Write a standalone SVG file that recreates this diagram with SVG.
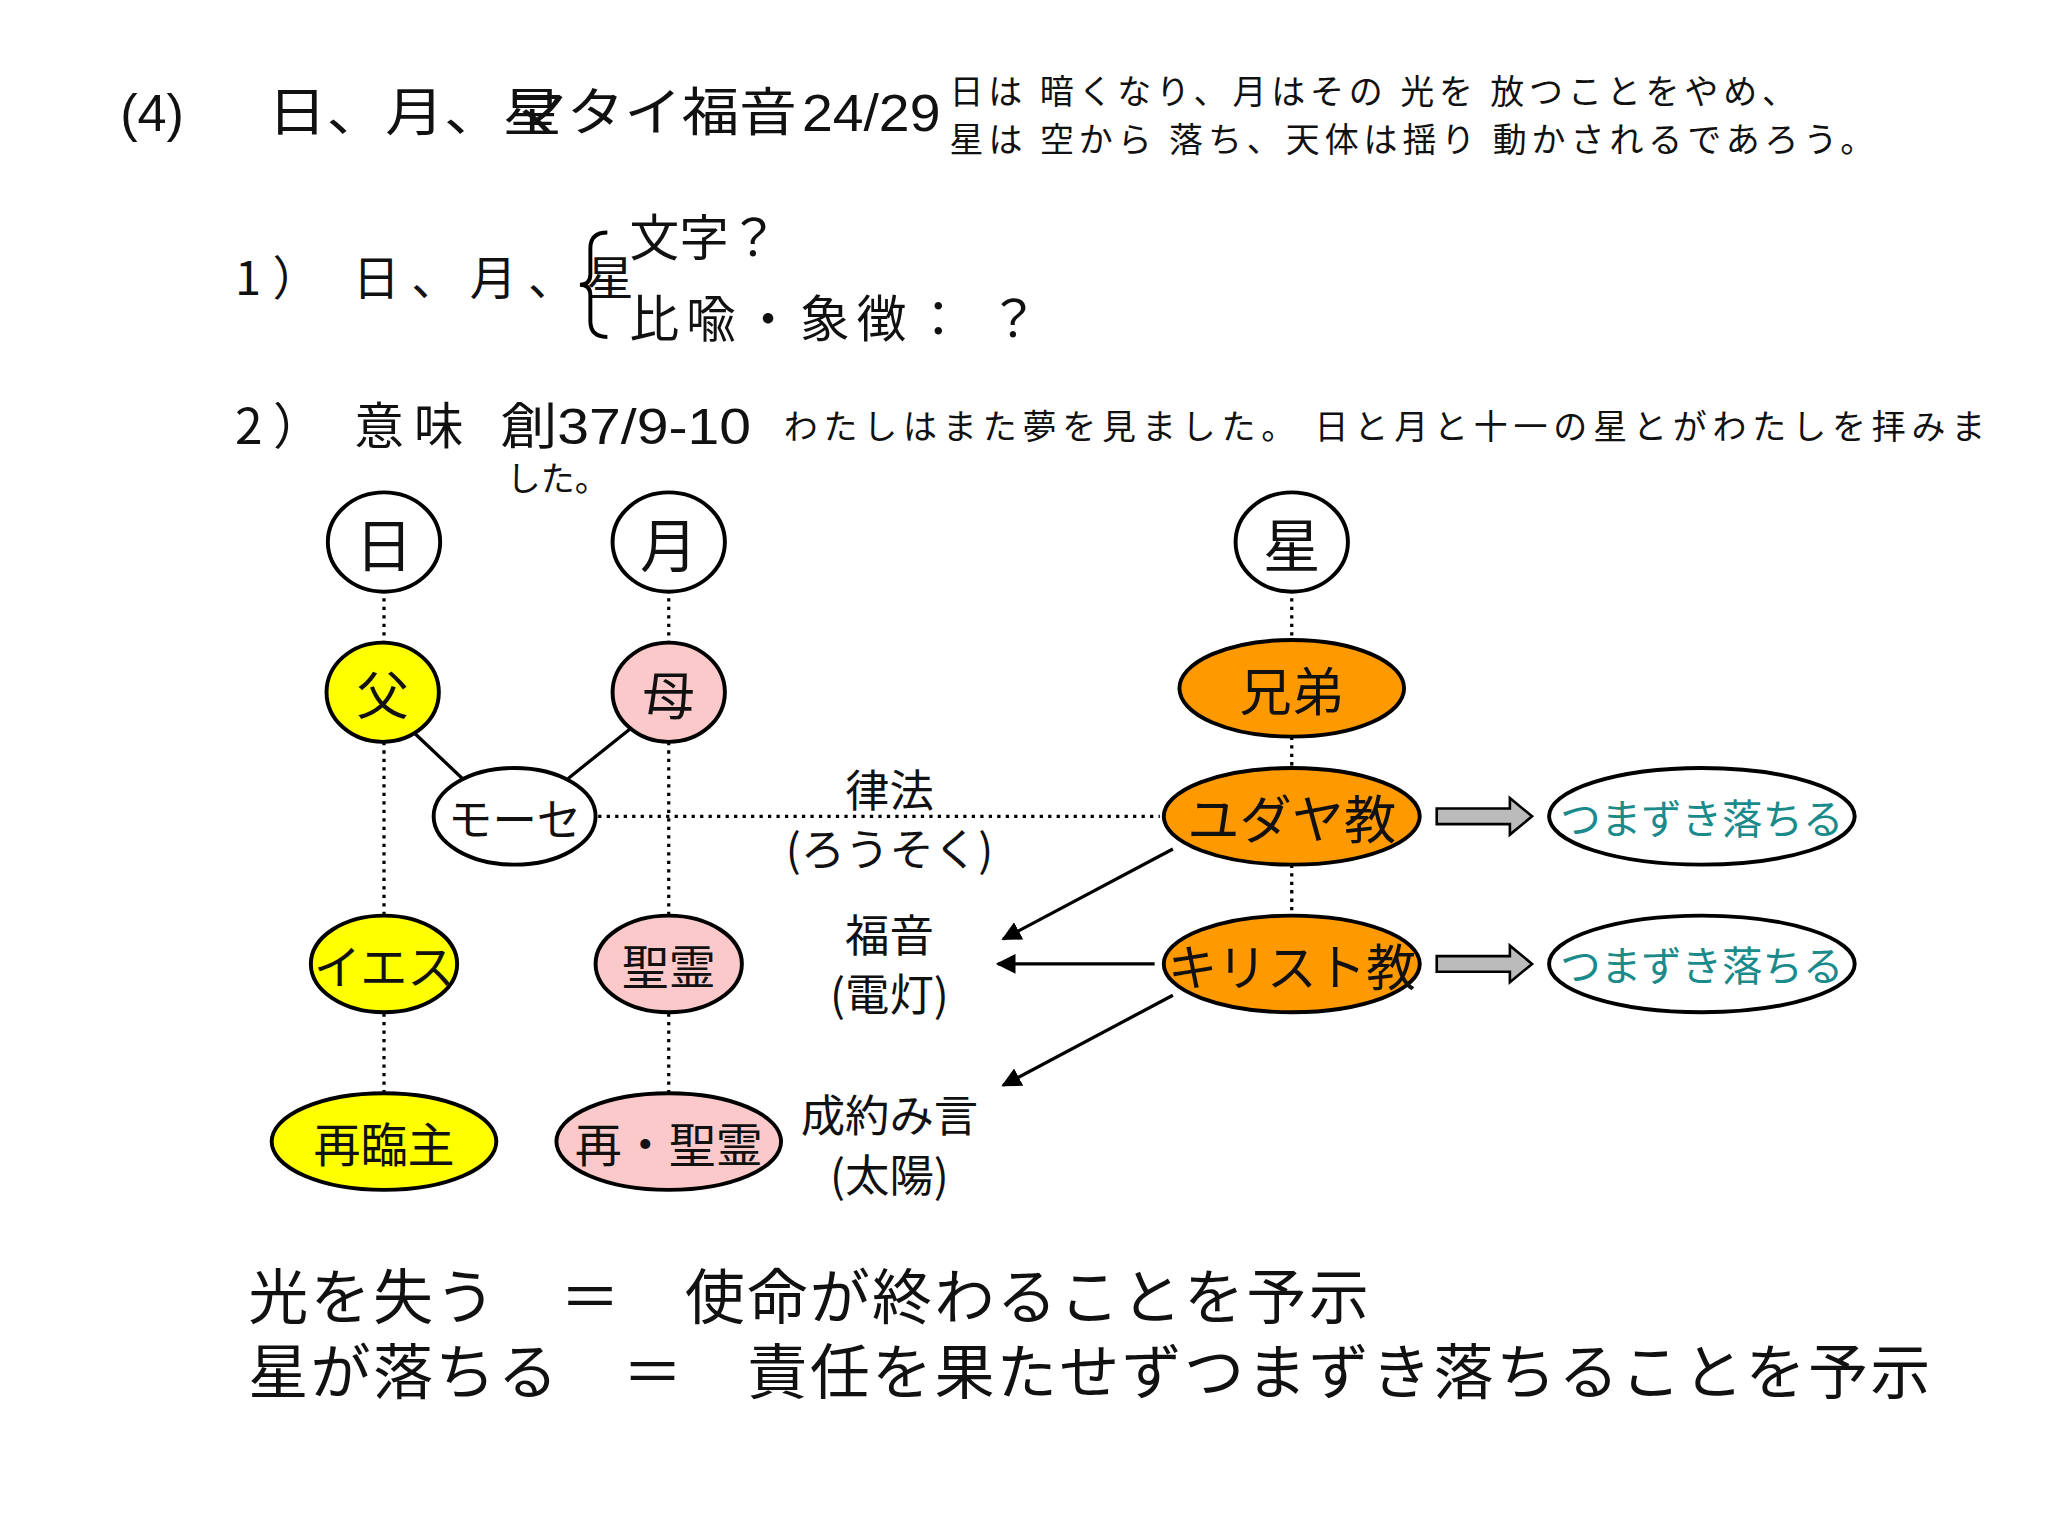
<svg xmlns="http://www.w3.org/2000/svg" width="2048" height="1536" viewBox="0 0 2048 1536">
<defs>
<style>
text{font-family:"Liberation Serif","Noto Sans CJK JP",serif;fill:#111}
.s{font-family:"Liberation Sans","Noto Sans CJK JP",sans-serif}
.j{font-family:"Noto Sans CJK JP",sans-serif}
.n{text-anchor:middle;dominant-baseline:central}
.e{stroke:#000;stroke-width:3}
.d{stroke:#000;stroke-width:2.5;stroke-dasharray:2.5 4;fill:none}
.a{stroke:#000;stroke-width:2.5;fill:none;marker-end:url(#ah)}
</style>
<marker id="ah" viewBox="0 0 10 10" refX="9" refY="5" markerWidth="6" markerHeight="6" orient="auto"><path d="M0,0L10,5L0,10z" fill="#000"/></marker>
</defs>
<rect width="2048" height="1536" fill="#fff"/>
<g transform="scale(1.30612)">
<g id="texts">
<text class="s" x="92" y="100" font-size="40">(4)</text>
<text class="j" x="205" y="100" font-size="40" textLength="225" lengthAdjust="spacingAndGlyphs">日、月、星</text>
<text class="j" x="390" y="100" font-size="40" textLength="220" lengthAdjust="spacingAndGlyphs">マタイ福音</text>
<text class="s" x="614" y="100" font-size="40" textLength="106" lengthAdjust="spacingAndGlyphs">24/29</text>
<text class="j" x="727" y="80" font-size="26" textLength="648">日は 暗くなり、月はその 光を 放つことをやめ、</text>
<text class="j" x="727" y="116" font-size="26" textLength="708">星は 空から 落ち、天体は揺り 動かされるであろう。</text>
<text class="j" x="180" y="226" font-size="36" textLength="305">1）  日、月、星</text>
<path d="M465,178 Q452,178 452,190 L452,210 Q452,218 444,218 Q452,218 452,226 L452,246 Q452,258 465,258" fill="none" stroke="#000" stroke-width="3"/>
<text class="j" x="482" y="196" font-size="38">文字？</text>
<text class="j" x="482" y="258" font-size="38" textLength="313">比喩・象徴：  ？</text>
<text class="j" x="180" y="340" font-size="38" textLength="175">2）  意味</text>
<text class="s" x="383" y="340" font-size="38" textLength="192" lengthAdjust="spacingAndGlyphs">創37/9-10</text>
<text class="j" x="600" y="336" font-size="26" textLength="920">わたしはまた夢を見ました。 日と月と十一の星とがわたしを拝みま</text>
<text class="j" x="388" y="376" font-size="26">した。</text>
<text x="681" y="603" class="n j" font-size="34">律法</text>
<text x="681" y="648" class="n j" font-size="34">(ろうそく)</text>
<text x="681" y="714" class="n j" font-size="34">福音</text>
<text x="681" y="759" class="n j" font-size="34">(電灯)</text>
<text x="681" y="852" class="n j" font-size="34">成約み言</text>
<text x="681" y="898" class="n j" font-size="34">(太陽)</text>
<text class="j" x="190" y="1010" font-size="46" textLength="858">光を失う　＝　使命が終わることを予示</text>
<text class="j" x="190" y="1067" font-size="46" textLength="1288">星が落ちる　＝　責任を果たせずつまずき落ちることを予示</text>
</g>
<g id="connectors">
<path class="d" d="M294,458V492M294,568V700M294,776V836M512,458V492M512,568V700M512,776V836M989,458V490M989,564V588M989,662V700M458,625H888"/>
<path d="M318,562L354,596M485,556L435,596" stroke="#000" stroke-width="2.5"/>
<path class="a" d="M898,650L768,719"/>
<path class="a" d="M884,738H764"/>
<path class="a" d="M898,762L768,831"/>
<path d="M1100,619H1156V611L1173,625L1156,639V631H1100Z" fill="#bbb" stroke="#000" stroke-width="2"/>
<path d="M1100,732H1156V724L1173,738L1156,752V744H1100Z" fill="#bbb" stroke="#000" stroke-width="2"/>
</g>
<g id="sun"><ellipse class="e" cx="294" cy="415" rx="43" ry="38" fill="#fff"/><text class="n j" x="294" y="415" font-size="44">日</text></g>
<g id="moon"><ellipse class="e" cx="512" cy="415" rx="43" ry="38" fill="#fff"/><text class="n j" x="512" y="415" font-size="44">月</text></g>
<g id="star"><ellipse class="e" cx="989" cy="415" rx="43" ry="38" fill="#fff"/><text class="n j" x="989" y="415" font-size="44">星</text></g>
<g id="father"><ellipse class="e" cx="293" cy="530" rx="43" ry="38" fill="#ffff00"/><text class="n j" x="293" y="530" font-size="40">父</text></g>
<g id="mother"><ellipse class="e" cx="512" cy="530" rx="43" ry="38" fill="#fbc9c9"/><text class="n j" x="512" y="530" font-size="40">母</text></g>
<g id="brothers"><ellipse class="e" cx="989" cy="527" rx="86" ry="37" fill="#ff9900"/><text class="n j" x="989" y="527" font-size="40">兄弟</text></g>
<g id="moses"><ellipse class="e" cx="394" cy="625" rx="62" ry="37" fill="#fff"/><text class="n j" x="394" y="625" font-size="34">モーセ</text></g>
<g id="judaism"><ellipse class="e" cx="989" cy="625" rx="98" ry="37" fill="#ff9900"/><text class="n j" x="989" y="625" font-size="40">ユダヤ教</text></g>
<g id="christianity"><ellipse class="e" cx="989" cy="738" rx="98" ry="37" fill="#ff9900"/><text class="n j" x="989" y="738" font-size="38">キリスト教</text></g>
<g id="jesus"><ellipse class="e" cx="294" cy="738" rx="56" ry="37" fill="#ffff00"/><text class="n j" x="294" y="738" font-size="36">イエス</text></g>
<g id="spirit"><ellipse class="e" cx="512" cy="738" rx="56" ry="37" fill="#fbc9c9"/><text class="n j" x="512" y="738" font-size="36">聖霊</text></g>
<g id="lord"><ellipse class="e" cx="294" cy="874" rx="86" ry="37" fill="#ffff00"/><text class="n j" x="294" y="874" font-size="36">再臨主</text></g>
<g id="spirit2"><ellipse class="e" cx="512" cy="874" rx="86" ry="37" fill="#fbc9c9"/><text class="n j" x="512" y="874" font-size="36">再・聖霊</text></g>
<g id="fall1"><ellipse class="e" cx="1303" cy="625" rx="117" ry="37" fill="#fff"/><text class="n j" x="1303" y="625" font-size="31" style="fill:#1a8a8a">つまずき落ちる</text></g>
<g id="fall2"><ellipse class="e" cx="1303" cy="738" rx="117" ry="37" fill="#fff"/><text class="n j" x="1303" y="738" font-size="31" style="fill:#1a8a8a">つまずき落ちる</text></g>
</g>
</svg>
